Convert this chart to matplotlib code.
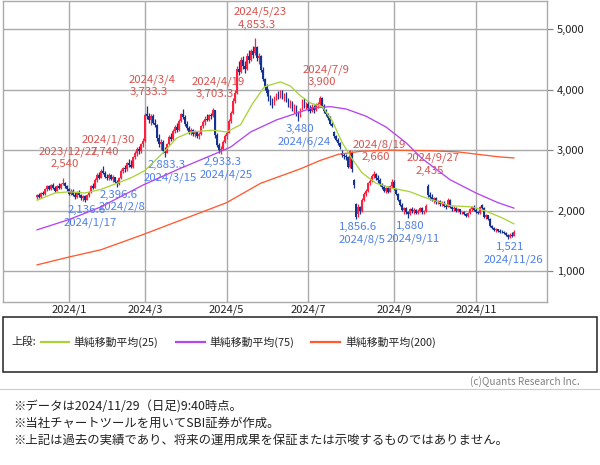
import matplotlib
matplotlib.use("Agg")
import matplotlib.pyplot as plt
import numpy as np
import pandas as pd
from matplotlib.patches import Rectangle
from matplotlib.lines import Line2D

plt.rcParams["font.family"] = ["Noto Sans CJK JP", "DejaVu Sans"]

# ---------- 営業日（東証） ----------
START, END = "2023-12-08", "2024-11-29"
HOLIDAYS = ["2024-01-01", "2024-01-02", "2024-01-03", "2024-01-08", "2024-02-12",
            "2024-02-23", "2024-03-20", "2024-04-29", "2024-05-03", "2024-05-06",
            "2024-07-15", "2024-08-12", "2024-09-16", "2024-09-23", "2024-10-14",
            "2024-11-04"]

# ---------- 日足 OHLC（2023/12/8 〜 2024/11/29） ----------
opens = [
    # Dec
    2230, 2250, 2220, 2290, 2270, 2360, 2400, 2350, 2420, 2380, 2330, 2410, 2370, 2440, 2460, 2400,
    # Jan
    2350, 2280, 2330, 2260, 2220, 2310, 2250, 2200, 2240, 2180, 2250, 2300, 2400, 2380, 2510, 2590, 2540, 2660, 2620,
    # Feb
    2560, 2530, 2590, 2520, 2550, 2480, 2440, 2540, 2660, 2700, 2680, 2780, 2760, 2720, 2880, 2950, 3020, 2980, 3100,
    # Mar
    3150, 3600, 3560, 3500, 3560, 3450, 3420, 3200, 3100, 3140, 2990, 2960, 3100, 3220, 3180, 3320, 3390, 3330, 3480, 3600,
    # Apr
    3550, 3430, 3360, 3300, 3330, 3270, 3300, 3240, 3260, 3400, 3470, 3520, 3500, 3580, 3560, 3660, 3250, 3080, 3000, 3020, 3140,
    # May
    3230, 3290, 3480, 3620, 3820, 3950, 4350, 4300, 4500, 4400, 4350, 4560, 4500, 4640, 4600, 4700, 4520, 4560, 4330, 4180, 4050,
    # Jun
    3950, 3870, 3800, 3760, 3870, 3900, 3880, 3970, 3880, 3920, 3830, 3760, 3800, 3680, 3720, 3600, 3560, 3680, 3820, 3740,
    # Jul
    3770, 3690, 3650, 3720, 3660, 3750, 3760, 3860, 3730, 3650, 3600, 3530, 3440, 3300, 3230, 3170, 3110, 2960, 2920, 2900, 2880, 2720,
    # Aug
    2950, 2500, 2100, 1950, 2060, 2000, 2180, 2270, 2330, 2450, 2490, 2570, 2600, 2540, 2500, 2430, 2390, 2330, 2370, 2310, 2400,
    # Sep
    2480, 2360, 2270, 2170, 2090, 2010, 2040, 1970, 1950, 2020, 1990, 2010, 1960, 2000, 2040, 1970, 1990, 2400, 2260,
    # Oct
    2220, 2180, 2200, 2140, 2150, 2110, 2130, 2070, 2060, 2170, 2050, 2030, 2040, 2000, 2020, 1970, 1980, 1940, 1910, 1960, 2020, 2060,
    # Nov
    2010, 1980, 1960, 2090, 2040, 1900, 1920, 1860, 1740, 1710, 1680, 1690, 1660, 1650, 1640, 1630, 1600, 1560, 1600, 1580,
]
highs = [
    2280, 2290, 2300, 2330, 2380, 2420, 2430, 2440, 2450, 2400, 2430, 2450, 2460, 2540, 2480, 2420,
    2380, 2350, 2360, 2300, 2330, 2340, 2280, 2260, 2250, 2270, 2330, 2420, 2460, 2530, 2620, 2640, 2690, 2740, 2650,
    2600, 2620, 2610, 2580, 2560, 2500, 2560, 2680, 2720, 2760, 2800, 2850, 2830, 2900, 2990, 3050, 3060, 3120, 3200,
    3620, 3733.3, 3620, 3600, 3590, 3520, 3430, 3260, 3180, 3160, 3050, 3120, 3250, 3280, 3350, 3420, 3450, 3520, 3620, 3680,
    3580, 3480, 3400, 3360, 3350, 3330, 3320, 3300, 3420, 3500, 3560, 3600, 3600, 3620, 3703.3, 3670, 3280, 3120, 3060, 3160, 3260,
    3320, 3520, 3650, 3860, 4000, 4400, 4480, 4550, 4560, 4480, 4600, 4650, 4680, 4720, 4853.3, 4720, 4600, 4580, 4380, 4200, 4100,
    4020, 3920, 3860, 3900, 3950, 3980, 4000, 4000, 3950, 3960, 3870, 3830, 3820, 3760, 3740, 3640, 3700, 3850, 3860, 3800,
    3810, 3740, 3760, 3750, 3780, 3800, 3900, 3880, 3760, 3680, 3620, 3560, 3460, 3320, 3250, 3200, 3130, 3000, 2960, 2940, 2900, 3000,
    2980, 2520, 2130, 2100, 2080, 2200, 2300, 2360, 2470, 2520, 2600, 2660, 2620, 2580, 2530, 2460, 2420, 2390, 2400, 2420, 2520,
    2500, 2380, 2290, 2190, 2120, 2060, 2060, 2000, 2040, 2060, 2040, 2030, 2020, 2060, 2050, 2010, 2100, 2435, 2300,
    2280, 2230, 2220, 2180, 2170, 2160, 2150, 2100, 2200, 2190, 2080, 2070, 2050, 2040, 2030, 2000, 1990, 1960, 1980, 2040, 2080, 2090,
    2040, 2000, 2070, 2110, 2050, 1940, 1930, 1870, 1760, 1730, 1710, 1700, 1690, 1670, 1660, 1650, 1610, 1620, 1640, 1680,
]
lows = [
    2190, 2200, 2200, 2250, 2260, 2330, 2340, 2340, 2360, 2310, 2320, 2360, 2350, 2420, 2380, 2320,
    2250, 2260, 2240, 2190, 2210, 2230, 2170, 2160, 2136.6, 2170, 2230, 2290, 2350, 2370, 2480, 2520, 2530, 2600, 2540,
    2500, 2510, 2500, 2480, 2460, 2396.6, 2430, 2520, 2620, 2640, 2660, 2720, 2700, 2710, 2850, 2900, 2940, 2960, 3050,
    3140, 3520, 3450, 3420, 3430, 3380, 3150, 3050, 3000, 2950, 2883.3, 2950, 3080, 3150, 3170, 3280, 3300, 3320, 3460, 3520,
    3400, 3330, 3270, 3250, 3240, 3220, 3200, 3190, 3250, 3370, 3420, 3480, 3480, 3520, 3540, 3200, 3050, 2960, 2933.3, 3010, 3120,
    3180, 3280, 3450, 3600, 3780, 3930, 4250, 4280, 4350, 4280, 4330, 4450, 4480, 4520, 4580, 4480, 4420, 4300, 4150, 4000, 3900,
    3820, 3750, 3700, 3740, 3830, 3850, 3860, 3850, 3820, 3800, 3720, 3700, 3650, 3620, 3560, 3480, 3540, 3660, 3700, 3680,
    3650, 3610, 3630, 3620, 3640, 3700, 3740, 3700, 3620, 3560, 3500, 3420, 3380, 3200, 3150, 3080, 3020, 2880, 2860, 2840, 2700, 2700,
    2640, 2380, 1856.6, 1900, 1950, 1980, 2150, 2240, 2310, 2420, 2470, 2540, 2500, 2460, 2400, 2360, 2300, 2290, 2290, 2300, 2380,
    2340, 2250, 2150, 2070, 1990, 1950, 1940, 1880, 1930, 1960, 1950, 1940, 1940, 1980, 1950, 1940, 1980, 2230, 2180,
    2160, 2130, 2110, 2100, 2080, 2080, 2050, 2030, 2050, 2040, 2000, 2000, 1980, 1980, 1950, 1940, 1920, 1890, 1900, 1950, 2000, 1990,
    1960, 1940, 1950, 2030, 1880, 1860, 1840, 1720, 1690, 1660, 1650, 1640, 1630, 1620, 1610, 1580, 1521, 1540, 1560, 1570,
]
closes = [
    2250, 2220, 2290, 2270, 2360, 2400, 2350, 2420, 2380, 2330, 2410, 2370, 2440, 2460, 2400, 2350,
    2280, 2330, 2260, 2220, 2310, 2250, 2200, 2240, 2180, 2250, 2300, 2400, 2380, 2510, 2590, 2540, 2660, 2620, 2560,
    2530, 2590, 2520, 2550, 2480, 2440, 2540, 2660, 2700, 2680, 2780, 2760, 2720, 2880, 2950, 3020, 2980, 3100, 3150,
    3580, 3560, 3500, 3560, 3450, 3420, 3200, 3100, 3140, 2990, 2960, 3100, 3220, 3180, 3320, 3390, 3330, 3480, 3600, 3550,
    3430, 3360, 3300, 3330, 3270, 3300, 3240, 3260, 3400, 3470, 3520, 3500, 3580, 3560, 3660, 3250, 3080, 3000, 3020, 3140, 3230,
    3290, 3480, 3620, 3820, 3950, 4350, 4300, 4500, 4400, 4350, 4560, 4500, 4640, 4580, 4700, 4520, 4560, 4330, 4180, 4050, 3950,
    3870, 3800, 3760, 3870, 3900, 3880, 3970, 3880, 3920, 3830, 3760, 3800, 3680, 3720, 3600, 3560, 3680, 3820, 3740, 3770,
    3690, 3650, 3720, 3660, 3750, 3760, 3860, 3730, 3650, 3600, 3530, 3440, 3400, 3230, 3170, 3110, 3050, 2920, 2900, 2880, 2720, 2980,
    2680, 2420, 1900, 2060, 2000, 2180, 2270, 2330, 2450, 2490, 2570, 2600, 2540, 2500, 2430, 2390, 2330, 2370, 2310, 2400, 2480,
    2360, 2270, 2170, 2090, 2010, 2040, 1970, 1950, 2020, 1990, 2010, 1960, 2000, 2040, 1970, 1990, 2080, 2260, 2220,
    2180, 2200, 2140, 2150, 2110, 2130, 2070, 2060, 2170, 2050, 2030, 2040, 2000, 2020, 1970, 1980, 1940, 1910, 1960, 2020, 2060, 2010,
    1980, 1960, 2050, 2040, 1900, 1920, 1860, 1740, 1710, 1680, 1690, 1660, 1650, 1640, 1630, 1600, 1560, 1600, 1580, 1650,
]

# ---------- 単純移動平均（チャートから読み取り） ----------
ma25_dates = ["2023-12-08", "2023-12-21", "2024-01-04", "2024-01-17", "2024-01-29", "2024-02-08",
              "2024-02-20", "2024-03-01", "2024-03-14", "2024-03-26", "2024-04-04", "2024-04-19",
              "2024-05-01", "2024-05-14", "2024-05-22", "2024-05-30", "2024-06-11", "2024-06-18",
              "2024-06-25", "2024-07-02", "2024-07-10", "2024-07-18", "2024-07-25", "2024-08-01",
              "2024-08-08", "2024-08-20", "2024-08-30", "2024-09-12", "2024-09-25", "2024-10-15",
              "2024-10-30", "2024-11-11", "2024-11-21", "2024-11-29"]
ma25_vals = [2170, 2290, 2310, 2290, 2350, 2450, 2540, 2660, 2950, 3200, 3300, 3330,
             3300, 3420, 3770, 4050, 4130, 4060, 3900, 3780, 3720, 3480, 3120, 2850,
             2620, 2450, 2370, 2310, 2220, 2080, 2060, 1990, 1880, 1780]

ma75_dates = ["2023-12-08", "2024-01-04", "2024-01-29", "2024-02-29", "2024-03-28", "2024-04-23",
              "2024-05-07", "2024-05-21", "2024-06-07", "2024-06-21", "2024-07-03", "2024-07-17",
              "2024-07-29", "2024-08-13", "2024-08-27", "2024-09-10", "2024-09-24", "2024-10-15",
              "2024-11-01", "2024-11-19", "2024-11-29"]
ma75_vals = [1680, 1850, 2060, 2420, 2700, 2950, 3050, 3300, 3500, 3610, 3700, 3720,
             3680, 3560, 3380, 3120, 2860, 2510, 2290, 2130, 2040]

ma200_dates = ["2023-12-08", "2024-01-04", "2024-01-29", "2024-02-29", "2024-03-28", "2024-05-01",
               "2024-05-28", "2024-06-25", "2024-07-09", "2024-07-23", "2024-08-07", "2024-08-29",
               "2024-09-30", "2024-10-21", "2024-11-05", "2024-11-19", "2024-11-29"]
ma200_vals = [1100, 1230, 1350, 1600, 1840, 2130, 2450, 2690, 2830, 2930, 2980, 3000,
              2990, 2970, 2930, 2890, 2870]

# ---------- 高値・安値マーク ----------
peak_dates = ["2023-12-27", "2024-01-30", "2024-03-04", "2024-04-19", "2024-05-23",
              "2024-07-09", "2024-08-19", "2024-09-27"]
peak_vals = [2540, 2740, 3733.3, 3703.3, 4853.3, 3900, 2660, 2435]
trough_dates = ["2024-01-17", "2024-02-08", "2024-03-15", "2024-04-25", "2024-06-24",
                "2024-08-05", "2024-09-11", "2024-11-26"]
trough_vals = [2136.6, 2396.6, 2883.3, 2933.3, 3480, 1856.6, 1880, 1521]

ytick_vals = [1000, 2000, 3000, 4000, 5000]
xtick_months = ["2024-01", "2024-03", "2024-05", "2024-07", "2024-09", "2024-11"]

legend_labels = ["単純移動平均(25)", "単純移動平均(75)", "単純移動平均(200)"]
notes = ["※データは2024/11/29（日足)9:40時点。",
         "※当社チャートツールを用いてSBI証券が作成。",
         "※上記は過去の実績であり、将来の運用成果を保証または示唆するものではありません。"]

# ---------- スタイル ----------
UP_C = "#ff1f3f"
DOWN_C = "#14328f"
MA_COLORS = ["#a8d43a", "#b446ec", "#ff5a30"]
RED_TXT = "#d9534f"
BLUE_TXT = "#4f80e8"
GRID_C = "#aaaaaa"
W, H = 600, 465
LBL_FS = 8.2
PX = 0.72  # 1px -> pt (dpi 100)


def fx(px):
    return px / W


def fy(py):
    return 1 - py / H


def fmt_val(v):
    s = f"{v:,.1f}"
    return s[:-2] if s.endswith(".0") else s


def fmt_date(d):
    t = pd.Timestamp(d)
    return f"{t.year}/{t.month}/{t.day}"


dates = pd.bdate_range(START, END, freq="C", holidays=HOLIDAYS)
pos = {d.strftime("%Y-%m-%d"): i for i, d in enumerate(dates)}
x = np.arange(len(dates))
o, h, l, c = (np.array(a, dtype=float) for a in (opens, highs, lows, closes))

fig = plt.figure(figsize=(W / 100, H / 100), dpi=100)
ax = fig.add_axes([fx(3), fy(302), fx(544), 301 / H])
ax.set_xlim(-17.08, 255.6)
ax.set_ylim(485, 5469)

# グリッド
ax.set_axisbelow(True)
ax.grid(True, color=GRID_C, lw=1.0)
for sp in ax.spines.values():
    sp.set_color(GRID_C)
    sp.set_linewidth(1.0)

# 移動平均
for ds, vs, col in [(ma200_dates, ma200_vals, MA_COLORS[2]),
                    (ma75_dates, ma75_vals, MA_COLORS[1]),
                    (ma25_dates, ma25_vals, MA_COLORS[0])]:
    ax.plot([pos[d] for d in ds], vs, color=col, lw=0.95, zorder=4)

# ローソク足
up = c >= o
cols = np.where(up, UP_C, DOWN_C)
ax.vlines(x, l, h, colors=cols, lw=0.9, zorder=3)
ax.bar(x, np.maximum(np.abs(c - o), 12), bottom=np.minimum(o, c), width=0.9,
       color=cols, lw=0, zorder=3)

# 高値・安値ラベル
for d, v in zip(peak_dates, peak_vals):
    ax.annotate(fmt_val(v), (pos[d], v), xytext=(2 * PX, 13.5 * PX), textcoords="offset points",
                ha="center", va="center", color=RED_TXT, fontsize=LBL_FS, zorder=2)
    ax.annotate(fmt_date(d), (pos[d], v), xytext=(5.5 * PX, 26 * PX), textcoords="offset points",
                ha="center", va="center", color=RED_TXT, fontsize=LBL_FS, zorder=2)
for d, v in zip(trough_dates, trough_vals):
    ax.annotate(fmt_val(v), (pos[d], v), xytext=(2 * PX, -8 * PX), textcoords="offset points",
                ha="center", va="center", color=BLUE_TXT, fontsize=LBL_FS, zorder=2)
    ax.annotate(fmt_date(d), (pos[d], v), xytext=(5.5 * PX, -20.5 * PX), textcoords="offset points",
                ha="center", va="center", color=BLUE_TXT, fontsize=LBL_FS, zorder=2)

# 軸
ax.yaxis.tick_right()
ax.set_yticks(ytick_vals)
ax.set_yticklabels([f"{v:,}" for v in ytick_vals])
ax.tick_params(axis="y", length=4.3, width=0.9, color="#888888", labelsize=8,
               labelcolor="#222222", pad=3)
month_pos = [next(i for i, dd in enumerate(dates) if dd.strftime("%Y-%m") == m) for m in xtick_months]
ax.set_xticks(month_pos)
ax.set_xticklabels([f"{m[:4]}/{int(m[5:])}" for m in xtick_months])
ax.tick_params(axis="x", length=0, labelsize=8, labelcolor="#222222", pad=2)

# 凡例ボックス
fig.add_artist(Rectangle((fx(3), fy(372)), fx(594), 55 / H, transform=fig.transFigure,
                         fill=False, edgecolor="#222222", lw=1.1))
fig.text(fx(11), fy(342), "上段:", fontsize=7.8, va="center", color="#222222")
for (x0, x1, tx), lab, col in zip([(41, 69, 73), (176, 205, 209), (311, 340, 345)],
                                  legend_labels, MA_COLORS):
    fig.add_artist(Line2D([fx(x0), fx(x1)], [fy(342), fy(342)], transform=fig.transFigure,
                          color=col, lw=1.6))
    fig.text(fx(tx), fy(342), lab, fontsize=7.8, va="center", color="#222222")

fig.add_artist(Line2D([0, 1], [fy(388.5), fy(388.5)], transform=fig.transFigure,
                      color="#cccccc", lw=0.8))
fig.text(fx(580), fy(382), "(c)Quants Research Inc.", fontsize=7.2, ha="right",
         va="center", color="#808080")

for i, t in enumerate(notes):
    fig.text(fx(13), fy(407 + 16.5 * i), t, fontsize=8.9, va="center", color="#222222")

fig.savefig("out.png", dpi=100, facecolor="white")
